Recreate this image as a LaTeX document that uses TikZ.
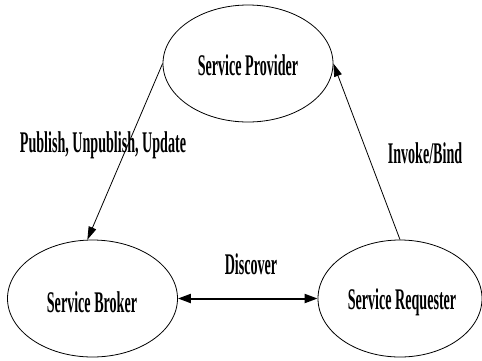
\documentclass[tikz,border=0pt]{standalone}
\usepackage{fontspec}
\newfontfamily\diagfont[FakeStretch=0.47]{Liberation Serif}
\usetikzlibrary{shapes.geometric, arrows.meta}

\begin{document}
\begin{tikzpicture}[x=1pt, y=-1pt,
    svc/.style={draw, ellipse, line width=0.8pt, inner sep=0pt,
        minimum width=170pt, minimum height=117pt},
    lbl/.style={font=\diagfont\bfseries\fontsize{30}{34}\selectfont, inner sep=0pt},
    tip/.style={-{Triangle[length=13pt, width=8pt]}}]

    \useasboundingbox (0,0) rectangle (482,360);

    \node[svc] (provider) at (248,63.5) {};
    \node[svc] (broker) at (92.5,298.5) {};
    \node[svc, minimum width=164pt] (requester) at (400,298.5) {};

    \node[lbl] at (248,65) {Service Provider};
    \node[lbl] at (92,302) {Service Broker};
    \node[lbl] at (402,302) {Service Requester};

    \draw[tip, line width=0.8pt] (provider.west) -- (broker.95);
    \draw[tip, line width=0.8pt] (requester.north) -- (provider.east);
    \draw[{Triangle[length=13pt, width=9pt]}-{Triangle[length=13pt, width=9pt]}, line width=2pt]
        (broker.east) -- (requester.west);

    \node[lbl] at (103,145) {Publish, Unpublish, Update};
    \node[lbl] at (425,153) {Invoke/Bind};
    \node[lbl] at (251,264) {Discover};

\end{tikzpicture}
\end{document}
